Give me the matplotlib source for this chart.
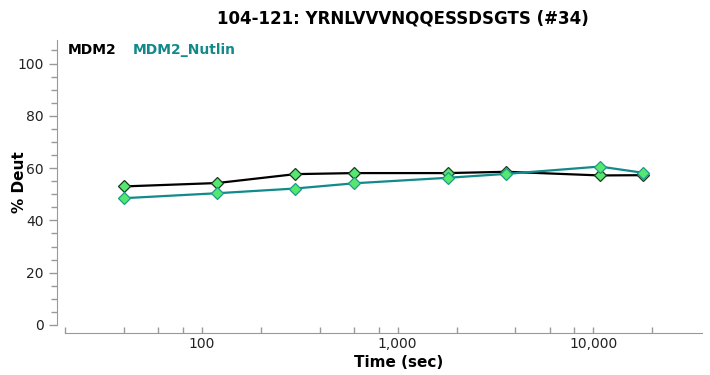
import matplotlib
matplotlib.use("Agg")
import matplotlib.pyplot as plt
from matplotlib.ticker import FixedLocator, FuncFormatter, MultipleLocator

# exposure times (sec) and % deuteration
times = [40, 120, 300, 600, 1800, 3600, 10800, 18000]
mdm2 = [53.0, 54.3, 57.7, 58.1, 58.1, 58.6, 57.2, 57.3]
mdm2_nutlin = [48.5, 50.4, 52.2, 54.2, 56.3, 57.8, 60.6, 58.2]

title = "104-121: YRNLVVVNQQESSDSGTS (#34)"
labels = ["MDM2", "MDM2_Nutlin"]
colors = ["black", "#128a8a"]

fig = plt.figure(figsize=(7.1, 3.75), dpi=100)
ax = fig.add_axes([57 / 710, 50 / 375, 645 / 710, 285 / 375])

ax.plot(times, mdm2, color=colors[0], lw=1.6, marker="D", ms=6,
        mfc="#55e86f", mec="#1c3a22", mew=0.9, zorder=3)
ax.plot(times, mdm2_nutlin, color=colors[1], lw=1.6, marker="D", ms=6,
        mfc="#55e86f", mec="#1f9a8a", mew=0.9, zorder=3)

ax.set_xscale("log")
ax.set_xlim(18.2, 35900)
ax.set_ylim(0, 109)

ax.yaxis.set_major_locator(MultipleLocator(20))
ax.yaxis.set_minor_locator(MultipleLocator(5))
ax.xaxis.set_major_locator(FixedLocator([100, 1000, 10000]))
minors = [m * 10 ** e for e in (1, 2, 3, 4) for m in (2, 4, 6, 8)]
ax.xaxis.set_minor_locator(FixedLocator([v for v in minors if 20 <= v <= 30000]))
ax.xaxis.set_major_formatter(FuncFormatter(lambda v, p: f"{int(v):,}"))
ax.xaxis.set_minor_formatter(FuncFormatter(lambda v, p: ""))

for s in ("top", "right"):
    ax.spines[s].set_visible(False)
ax.spines["left"].set_color("#999999")
ax.spines["bottom"].set_color("#999999")
ax.spines["bottom"].set_position(("outward", 6))
ax.spines["bottom"].set_bounds(20, 35900)
ax.spines["left"].set_bounds(0, 109)

ax.tick_params(axis="both", which="both", color="#999999", labelsize=10,
               labelcolor="#222222", width=1)
ax.tick_params(axis="y", which="major", length=6)
ax.tick_params(axis="y", which="minor", length=4)
ax.tick_params(axis="x", which="both", direction="in", length=4, pad=3)

ax.set_xlabel("Time (sec)", fontsize=11, fontweight="bold", va="center")
ax.xaxis.set_label_coords(0.53, -0.13)
ax.set_ylabel("% Deut", fontsize=11, fontweight="bold", va="center")
ax.yaxis.set_label_coords(-0.058, 0.5)
fig.suptitle(title, fontsize=12, fontweight="bold", x=0.567, y=0.975)

ax.text(0.017, 0.965, labels[0], transform=ax.transAxes, fontsize=10,
        fontweight="bold", color=colors[0], va="center")
ax.text(0.117, 0.965, labels[1], transform=ax.transAxes, fontsize=10,
        fontweight="bold", color=colors[1], va="center")

fig.savefig("out.png", dpi=100)
